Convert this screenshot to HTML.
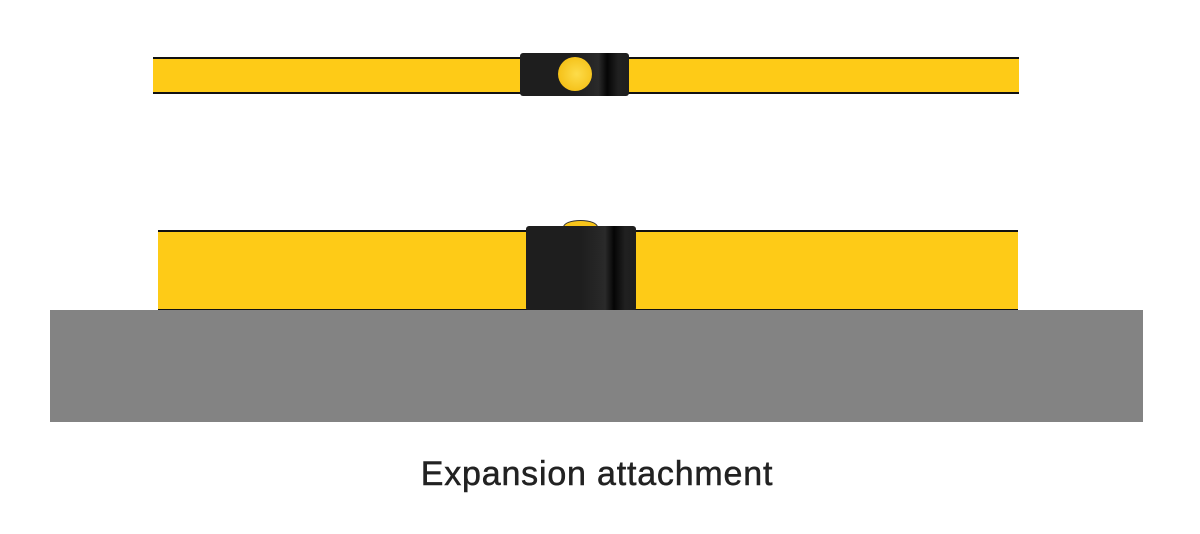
<!DOCTYPE html>
<html><head><style>
body{margin:0;width:1200px;height:534px;background:#fff;position:relative;overflow:hidden}
div{position:absolute;box-sizing:border-box}
.y{background:#fecb17;border-top:2px solid #111;border-bottom:2px solid #111}
.blk{background:linear-gradient(90deg,#1e1e1e 0%,#1e1e1e 50%,#262626 65%,#2a2a2a 72%,#050505 80%,#202020 90%,#1e1e1e 100%);border-radius:3px}
</style></head><body>
<div class="y" style="left:153px;top:57px;width:866px;height:37px"></div>
<div class="blk" style="left:520px;top:53px;width:109px;height:43px"></div>
<div style="left:558px;top:57px;width:34px;height:34px;border-radius:50%;background:radial-gradient(circle at 55% 50%,#fddc4a,#f5c21a 70%,#d9a800)"></div>
<div style="left:563px;top:220px;width:35px;height:14px;border-radius:50%;background:#f8c51a;border:1px solid #333"></div>
<div class="y" style="left:158px;top:230px;width:860px;height:81px"></div>
<div class="blk" style="left:526px;top:226px;width:110px;height:85px"></div>
<div style="left:50px;top:310px;width:1093px;height:112px;background:#838383"></div>
<div style="left:0;width:1194px;top:455px;text-align:center;font:34px 'Liberation Sans',sans-serif;letter-spacing:0.8px;color:#222;-webkit-text-stroke:0.5px #222">Expansion attachment</div>
</body></html>
